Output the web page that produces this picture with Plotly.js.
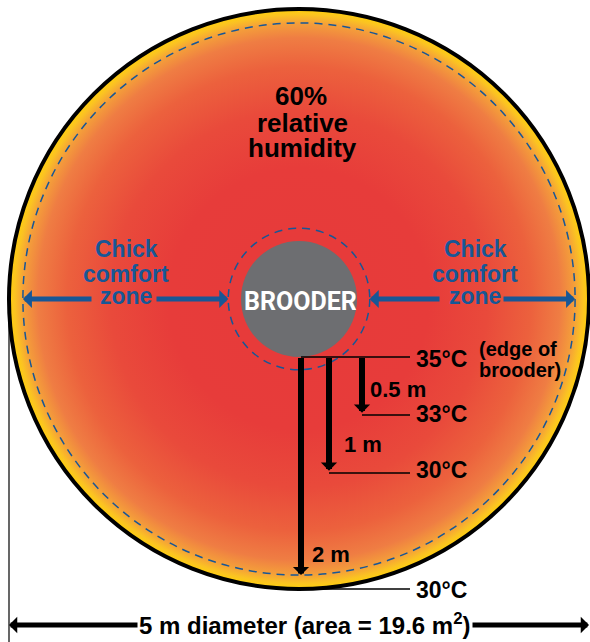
<!DOCTYPE html>
<html><head><meta charset="utf-8">
<script src="https://cdn.plot.ly/plotly-3.0.1.min.js"></script>
<style>html,body{margin:0;padding:0;background:#fff}#chart{width:590px;height:642px}</style>
</head><body><div id="chart"></div>
<script>
// ---- data ----
const diameterM = 5;
const areaM2 = 19.6;
const humidityPct = 60;
const brooderRadiusM = 0.5;
const distancesM = [0, 0.5, 1, 2];
const temperaturesC = [35, 33, 30, 30];
const zoneWords = ['Chick', 'comfort', 'zone'];
const humidityWords = ['relative', 'humidity'];

// ---- layout geometry (pixel helpers for label placement) ----
const W = 590, H = 642, CX = 299, CY = 299, S = 116;
const X = px => (px - CX) / S;
const Y = py => (CY - py) / S;
const R = diameterM / 2;
const dashOuterR = 2.38;
const dashInnerR = 0.61;
const BLUE = '#175796';
const FONT = 'Liberation Sans, Arial, sans-serif';
const NARROW = 'Roboto, Liberation Sans, sans-serif';

// circle outline for gradient fill
const N = 360, circX = [], circY = [];
for (let i = 0; i <= N; i++) { const a = 2 * Math.PI * i / N; circX.push(R * Math.cos(a)); circY.push(R * Math.sin(a)); }

const traces = [{
  type: 'scatter', x: circX, y: circY, mode: 'lines', line: {width: 0, color: 'rgba(0,0,0,0)'},
  fill: 'toself', hoverinfo: 'skip', showlegend: false,
  fillgradient: {type: 'radial', colorscale: [
    [0, '#e73a3a'], [0.45, '#e73c3a'], [0.65, '#e94a3b'], [0.8, '#ec613d'],
    [0.9, '#ef7d43'], [0.95, '#f49e3a'], [0.98, '#fbc322'], [1, '#ffd10a']]}
}];

const circle = (r, line, fill) => Object.assign({type: 'circle', xref: 'x', yref: 'y',
  x0: -r, x1: r, y0: -r, y1: r, line: line}, fill ? {fillcolor: fill} : {});

const shapes = [
  circle(R, {color: '#000', width: 4}),
  circle(dashOuterR, {color: BLUE, width: 1.5, dash: '8px,6px'}),
  circle(brooderRadiusM, {width: 0}, '#6d6e71'),
  circle(dashInnerR, {color: BLUE, width: 1.5, dash: '8px,6px'}),
  // left reference line for diameter
  {type: 'line', xref: 'x', yref: 'y', x0: -R, x1: -R, y0: 0, y1: Y(H), line: {color: '#000', width: 1.2}}
];

const annotations = [];
function arrow(tailX, tailY, headX, headY, color, width, size) {
  annotations.push({x: headX, y: headY, ax: tailX, ay: tailY, xref: 'x', yref: 'y', axref: 'x', ayref: 'y',
    text: ' ', font: {size: 1}, borderpad: 0, showarrow: true, arrowhead: 1, arrowsize: size,
    arrowwidth: width, arrowcolor: color, standoff: 0, startstandoff: 0});
}

// vertical distance arrows x positions (px) for distances 0.5,1,2
const arrowPx = {0.5: 362, 1: 329, 2: 301};
const lineEndX = X(410);

distancesM.forEach((d, i) => {
  const yv = -(brooderRadiusM + d);
  const xs = d === 0 ? X(301) : X(arrowPx[d]);
  shapes.push({type: 'line', xref: 'x', yref: 'y', x0: xs, x1: lineEndX, y0: yv, y1: yv, line: {color: '#000', width: 1.5}});
  if (d > 0) {
    const tip = Math.max(yv + 0.02, -dashOuterR);
    arrow(xs, -brooderRadiusM, xs, tip, '#000', 6, 0.45);
  }
});

function txt(text, px, baseline, size, color, anchor, family) {
  annotations.push({x: X(px), y: Y(baseline - 0.34 * size), xref: 'x', yref: 'y', text: text, showarrow: false,
    xanchor: anchor || 'center', yanchor: 'middle', font: {family: family || FONT, size: size, color: color || '#000'}});
}

// humidity
txt('<b>' + humidityPct + '%</b>', 301, 105, 26);
txt('<b>' + humidityWords[0] + '</b>', 302, 132, 26);
txt('<b>' + humidityWords[1] + '</b>', 302, 157, 26);

// chick comfort zones
const zoneBase = [257, 282, 304];
[126, 475].forEach(cx => zoneWords.forEach((w, k) => txt('<b>' + w + '</b>', cx, zoneBase[k], 23, BLUE)));

// blue arrows
arrow(X(92), Y(299), -dashOuterR, Y(299), BLUE, 5, 0.6);
arrow(X(156), Y(299), -dashInnerR, Y(299), BLUE, 5, 0.6);
arrow(X(440), Y(299), dashInnerR, Y(299), BLUE, 5, 0.6);
arrow(X(503), Y(299), dashOuterR, Y(299), BLUE, 5, 0.6);

// brooder
txt('<b>BROODER</b>', 300, 310, 25, '#fff', 'center', NARROW);

// temperature labels
const tempBase = [367, 422, 478, 598];
temperaturesC.forEach((t, i) => txt('<b>' + t + '°C</b>', 414, tempBase[i], 23, '#000', 'left'));
txt('<b>(edge of</b>', 518, 356, 20);
txt('<b>brooder)</b>', 520, 377, 20);

// distance labels
const distPos = {0.5: [368, 397], 1: [342, 452], 2: [310, 562]};
distancesM.filter(d => d > 0).forEach(d => txt('<b>' + d + ' m</b>', distPos[d][0], distPos[d][1], 22, '#000', 'left'));

// diameter
txt('<b>' + diameterM + ' m diameter (area = ' + areaM2 + ' m<sup>2</sup>)</b>', 305, 632, 24);
arrow(X(138), Y(625), -R, Y(625), '#000', 5, 0.55);
arrow(X(472), Y(625), R, Y(625), '#000', 5, 0.55);

const layout = {
  width: W, height: H, margin: {l: 0, r: 0, t: 0, b: 0},
  paper_bgcolor: '#fff', plot_bgcolor: '#fff', showlegend: false,
  xaxis: {range: [X(0), X(W)], visible: false, fixedrange: true},
  yaxis: {range: [Y(H), Y(0)], visible: false, fixedrange: true},
  shapes: shapes, annotations: annotations
};
Plotly.newPlot('chart', traces, layout, {displayModeBar: false, staticPlot: true});
</script></body></html>
